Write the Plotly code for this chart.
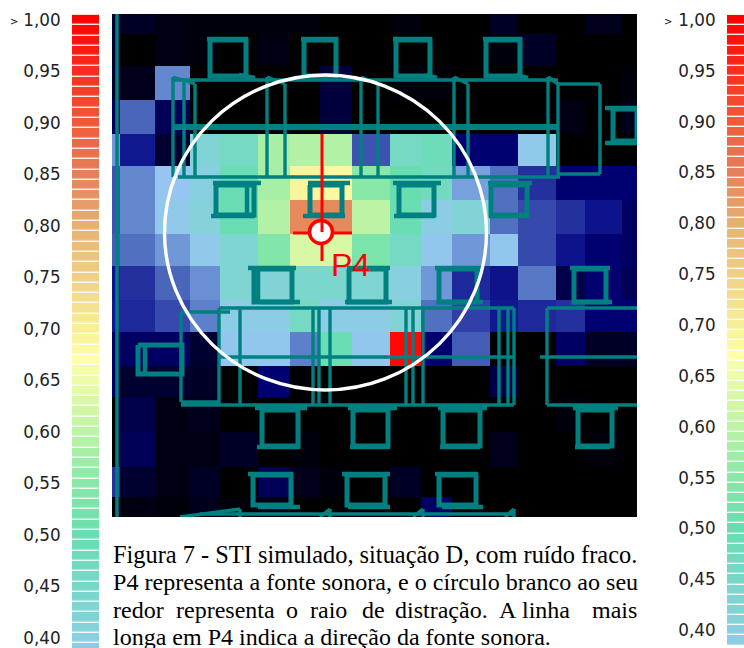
import plotly.graph_objects as go

W, H = 744, 648

# --- STI colour key ---
key_stops = [
    [0.00, "#000000"], [0.05, "#000030"], [0.10, "#000070"], [0.15, "#101890"],
    [0.20, "#3040a8"], [0.25, "#5070c0"], [0.30, "#7098d8"], [0.35, "#95c5f0"],
    [0.40, "#88d0e0"], [0.45, "#78d8c8"], [0.50, "#68deb0"], [0.55, "#88e8a8"],
    [0.60, "#bdf3a5"], [0.67, "#ffffa8"], [0.70, "#f8ee98"], [0.75, "#f0d085"],
    [0.80, "#e8b070"], [0.85, "#e5805a"], [0.90, "#f05a3a"], [1.00, "#ff0000"],
]
key_levels = [round(1 - i * 0.01, 2) for i in range(62)]
key_ticks = [1.00, 0.95, 0.90, 0.85, 0.80, 0.75, 0.70, 0.65, 0.60, 0.55, 0.50, 0.45, 0.40]
key_labels = ["1,00", "0,95", "0,90", "0,85", "0,80", "0,75", "0,70",
              "0,65", "0,60", "0,55", "0,50", "0,45", "0,40"]

# --- STI map: cell edges on the plan and cell values ---
col_edges = [112, 120, 155, 190, 220, 258, 290, 320, 352, 390, 421, 452, 490, 518, 556, 585, 622, 637]
row_edges = [14, 34, 66, 100, 134, 166, 200, 234, 266, 300, 332, 366, 397, 432, 467, 497, 517]
sti = [
    [.05, .04, .02, .01, .01, .01, .01, .00, .00, .01, .00, .00, .04, .00, .00, .03, .00],
    [.05, .00, .02, .01, .00, .02, .00, .00, .00, .00, .00, .00, .01, .04, .00, .00, .00],
    [.05, .03, .28, .00, .00, .00, .00, .06, .00, .01, .01, .00, .00, .00, .00, .00, .01],
    [.08, .24, .08, .00, .00, .00, .00, .06, .00, .00, .00, .00, .00, .00, .02, .00, .03],
    [.30, .15, .05, .42, .46, .58, .59, .59, .22, .46, .48, .10, .10, .37, .00, .00, .00],
    [.22, .28, .35, .40, .49, .58, .69, .68, .55, .50, .47, .31, .25, .18, .10, .10, .10],
    [.22, .28, .37, .41, .49, .59, .84, .84, .60, .49, .39, .42, .25, .21, .18, .14, .09],
    [.23, .25, .30, .37, .43, .54, .63, .63, .53, .46, .36, .30, .36, .21, .14, .10, .09],
    [.14, .18, .24, .29, .43, .42, .44, .44, .43, .40, .30, .17, .14, .26, .07, .10, .08],
    [.15, .17, .21, .27, .38, .38, .46, .38, .38, .42, .25, .20, .15, .17, .18, .10, .10],
    [.09, .09, .09, .05, .36, .36, .27, .49, .36, .99, .10, .23, .00, .00, .09, .04, .04],
    [.09, .05, .05, .04, .00, .10, .00, .00, .00, .00, .00, .00, .07, .00, .00, .00, .00],
    [.00, .07, .02, .03, .00, .00, .00, .00, .00, .00, .00, .00, .00, .00, .01, .00, .00],
    [.00, .08, .02, .02, .04, .00, .01, .00, .00, .00, .00, .00, .03, .00, .00, .01, .00],
    [.18, .05, .02, .04, .00, .08, .03, .01, .00, .04, .00, .00, .00, .00, .00, .00, .00],
    [.00, .02, .01, .03, .01, .02, .00, .00, .00, .00, .09, .00, .00, .00, .00, .00, .00],
]

# --- Plan overlay, in plan units ---
columns_thick = [  # outer left, top, right, bottom of each pillar
    (210, 40, 246, 76), (304, 40, 336, 76), (396, 40, 430, 76), (486, 40, 520, 76),
    (216, 185, 254, 215), (310, 185, 342, 215), (399, 185, 434, 215), (491, 185, 527, 215),
    (613, 109, 637, 141),
    (254, 269, 292, 302), (349, 269, 386, 302), (439, 269, 477, 302), (574, 269, 606, 302),
    (138, 345, 182, 374),
    (262, 410, 298, 446), (353, 410, 388, 446), (443, 410, 480, 446), (578, 410, 612, 446),
    (253, 475, 291, 505), (347, 475, 385, 505), (439, 475, 476, 505),
]
beam = [(173, 127, 558, 127)]
walls_thin = [
    (173, 80, 558, 80), (178, 177, 560, 177),
    (173, 77, 173, 177), (184, 80, 184, 177), (195, 84, 195, 177),
    (267, 77, 267, 177), (285, 84, 285, 177), (361, 77, 361, 177), (378, 84, 378, 177),
    (454, 77, 454, 177), (468, 84, 468, 177), (548, 77, 548, 177), (558, 84, 558, 177),
    (173, 77, 195, 84), (267, 77, 285, 84), (361, 77, 378, 84), (454, 77, 468, 84), (548, 77, 558, 84),
    (558, 84, 600, 84), (600, 84, 600, 174), (558, 174, 600, 174),
    (219, 308, 514, 308), (219, 357, 514, 357), (181, 405, 514, 405),
    (181, 312, 181, 402), (181, 312, 230, 312), (181, 402, 219, 402),
    (219, 308, 219, 405), (240, 308, 240, 405), (313, 308, 313, 405), (319, 308, 319, 405), (330, 308, 330, 405),
    (406, 308, 406, 405), (413, 308, 413, 405), (423, 308, 423, 405),
    (499, 308, 499, 405), (508, 308, 508, 405), (514, 308, 514, 405),
    (547, 308, 637, 308), (547, 308, 547, 405), (547, 405, 637, 405), (540, 357, 637, 357),
    (200, 514, 514, 514), (180, 517, 240, 509), (240, 509, 240, 517), (330, 509, 330, 517),
    (423, 509, 423, 517), (514, 509, 514, 517), (320, 517, 330, 509), (413, 517, 423, 509), (505, 517, 514, 509),
]
long_wall = [(117, 14, 117, 517)]
pillar_extras = [
    (207, 39, 248, 39), (239, 75, 255, 78), (301, 39, 338, 39), (393, 39, 432, 39), (426, 75, 437, 78),
    (483, 39, 522, 39), (516, 75, 528, 78), (213, 183, 261, 183), (211, 216, 255, 216),
    (247, 185, 247, 215), (308, 183, 350, 183), (303, 216, 345, 216),
    (393, 183, 441, 183), (394, 216, 435, 216), (488, 183, 532, 183), (489, 216, 528, 216),
    (605, 108, 637, 108), (605, 143, 637, 143),
    (248, 268, 296, 268), (261, 302, 300, 302), (347, 268, 390, 268), (345, 302, 392, 302),
    (435, 268, 483, 268), (437, 302, 483, 302), (570, 268, 610, 268), (572, 302, 612, 302),
    (255, 408, 307, 408), (257, 447, 300, 447), (348, 408, 397, 408), (350, 447, 390, 447),
    (438, 408, 487, 408), (440, 447, 480, 447), (573, 408, 618, 408), (575, 447, 610, 447),
    (248, 474, 293, 474), (258, 507, 300, 507), (342, 474, 390, 474), (348, 507, 390, 507),
    (435, 474, 478, 474), (442, 507, 483, 507), (145, 345, 145, 374),
    (258, 269, 258, 302),
]

# --- Sound source P4 ---
source_x, source_y = [321], [232]
aim_x, aim_y = [322, 322], [134, 261]
cross_x, cross_y = [293, 352], [233, 233]
aim_short_x, aim_short_y = [322, 322], [221, 232]

# --- Caption ---
caption_lines = [
    "Figura 7 - STI simulado, situação D, com ruído fraco.",
    "P4 representa a fonte sonora, e o círculo branco ao seu",
    None,
    "longa em P4 indica a direção da fonte sonora.",
]
caption_line3_words = ["redor", "representa", "o", "raio", "de", "distração.", "A", "linha", "mais"]
caption_line3_x = [111, 174, 284, 307.5, 359.6, 393, 497, 520, 590]
caption_y = [554, 582, 610, 637]


def seg_xy(segs):
    xs, ys = [], []
    for x0, y0, x1, y1 in segs:
        xs += [x0, x1, None]
        ys += [y0, y1, None]
    return xs, ys


def rect_xy(rects):
    xs, ys = [], []
    for x0, y0, x1, y1 in rects:
        xs += [x0, x1, x1, x0, x0, None]
        ys += [y0, y0, y1, y1, y0, None]
    return xs, ys


TEAL = "#008080"
fig = go.Figure()

fig.add_trace(go.Heatmap(x=col_edges, y=row_edges, z=sti, zmin=0, zmax=1,
                         colorscale=key_stops, showscale=False, hoverinfo="skip",
                         xaxis="x", yaxis="y"))
x, y = rect_xy(columns_thick)
fig.add_trace(go.Scatter(x=x, y=y, mode="lines", line=dict(color=TEAL, width=5), xaxis="x", yaxis="y"))
x, y = seg_xy(pillar_extras)
fig.add_trace(go.Scatter(x=x, y=y, mode="lines", line=dict(color=TEAL, width=4.5), xaxis="x", yaxis="y"))
x, y = seg_xy(walls_thin)
fig.add_trace(go.Scatter(x=x, y=y, mode="lines", line=dict(color=TEAL, width=3.4), xaxis="x", yaxis="y"))
x, y = seg_xy(beam)
fig.add_trace(go.Scatter(x=x, y=y, mode="lines", line=dict(color=TEAL, width=6), xaxis="x", yaxis="y"))
x, y = seg_xy(long_wall)
fig.add_trace(go.Scatter(x=x, y=y, mode="lines", line=dict(color=TEAL, width=3.5), xaxis="x", yaxis="y"))
fig.add_trace(go.Scatter(x=aim_x, y=aim_y, mode="lines", line=dict(color="#ff0000", width=3), xaxis="x", yaxis="y"))
fig.add_trace(go.Scatter(x=cross_x, y=cross_y, mode="lines", line=dict(color="#ff0000", width=3), xaxis="x", yaxis="y"))
fig.add_trace(go.Scatter(x=source_x, y=source_y, mode="markers",
                         marker=dict(size=23, color="white", line=dict(color="#ff0000", width=3.5)),
                         xaxis="x", yaxis="y"))
fig.add_trace(go.Scatter(x=aim_short_x, y=aim_short_y, mode="lines", line=dict(color="#ff0000", width=3), xaxis="x", yaxis="y"))


def key_axis_range(top_px_per_unit):
    return [1 - (H - 20) / top_px_per_unit, 1 + 20 / top_px_per_unit]


fig.add_trace(go.Heatmap(x=[0, 1], y=key_levels, z=[[v] for v in key_levels], zmin=0, zmax=1,
                         colorscale=key_stops, showscale=False, hoverinfo="skip", ygap=1.3,
                         xaxis="x2", yaxis="y2"))
fig.add_trace(go.Heatmap(x=[0, 1], y=key_levels, z=[[v] for v in key_levels], zmin=0, zmax=1,
                         colorscale=key_stops, showscale=False, hoverinfo="skip", ygap=1.3,
                         xaxis="x3", yaxis="y3"))

key_axis = dict(tickmode="array", tickvals=key_ticks, ticktext=key_labels, domain=[0, 1],
                ticks="outside", ticklen=7, tickcolor="rgba(0,0,0,0)", showline=False,
                showgrid=False, zeroline=False,
                tickfont=dict(family="DejaVu Sans", size=16.8, color="#222222"))
hidden = dict(visible=False, range=[0, 1], showgrid=False, zeroline=False)

annotations = []
for text, yy, fs in zip(caption_lines, caption_y, [24.4, 24.1, 24, 24]):
    if text:
        annotations.append(dict(text=text, x=111 / W, y=1 - yy / H, xref="paper", yref="paper",
                                xanchor="left", yanchor="middle", showarrow=False,
                                font=dict(family="Liberation Serif", size=fs, color="black")))
for word, wx in zip(caption_line3_words, caption_line3_x):
    annotations.append(dict(text=word, x=wx / W, y=1 - caption_y[2] / H, xref="paper", yref="paper",
                            xanchor="left", yanchor="middle", showarrow=False,
                            font=dict(family="Liberation Serif", size=24, color="black")))
annotations.append(dict(text="P4", x=329, y=265, xref="x", yref="y", xanchor="left", yanchor="middle",
                        showarrow=False, font=dict(family="Liberation Sans", size=32, color="#ff0000")))
for mx in (14, 668):
    annotations.append(dict(text=">", x=mx / W, y=1 - 21 / H, xref="paper", yref="paper",
                            xanchor="center", yanchor="middle", showarrow=False,
                            font=dict(family="DejaVu Sans", size=10, color="#111111")))

shapes = [dict(type="circle", xref="x", yref="y", x0=164.5, x1=486.5, y0=75, y1=390,
               line=dict(color="white", width=3.4), layer="above")]

fig.update_layout(
    width=W, height=H, margin=dict(l=0, r=0, t=0, b=0), showlegend=False,
    paper_bgcolor="white", plot_bgcolor="white",
    xaxis=dict(domain=[112 / W, 637 / W], range=[112, 637], visible=False, showgrid=False, zeroline=False),
    yaxis=dict(domain=[1 - 517 / H, 1 - 14 / H], range=[517, 14], visible=False, showgrid=False, zeroline=False),
    xaxis2=dict(hidden, domain=[72 / W, 99 / W], anchor="y2"),
    yaxis2=dict(key_axis, range=key_axis_range(1030), anchor="x2"),
    xaxis3=dict(hidden, domain=[727 / W, 1], anchor="y3"),
    yaxis3=dict(key_axis, range=key_axis_range(1017), anchor="x3"),
    annotations=annotations, shapes=shapes,
)

fig.write_html("out.html", config={"displayModeBar": False},
               post_script="document.body.style.margin='0';document.body.style.overflow='hidden';window.dispatchEvent(new Event('resize'));")
